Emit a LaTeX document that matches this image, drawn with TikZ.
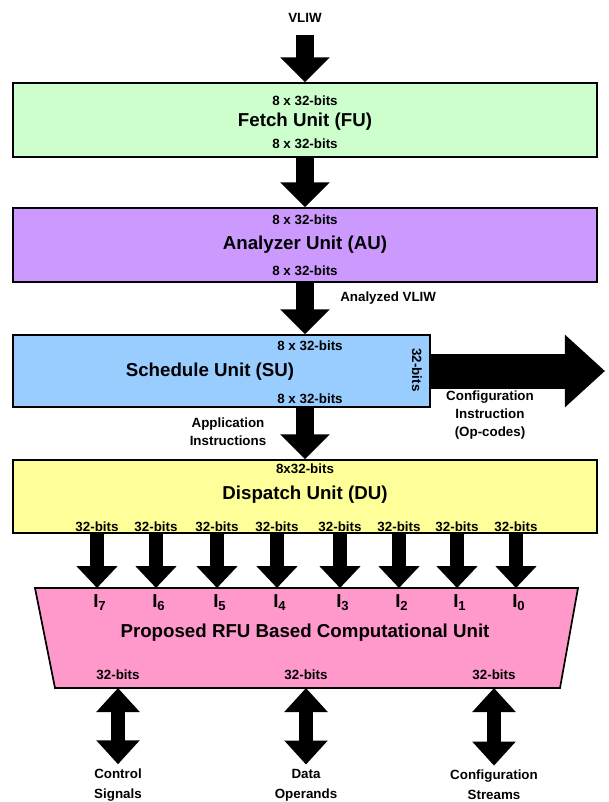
\documentclass[tikz,border=0pt]{standalone}
\usepackage{fontspec}
\setmainfont{Liberation Sans}
\usetikzlibrary{arrows.meta,positioning,calc}
\definecolor{fucol}{HTML}{CCFFCC}
\definecolor{aucol}{HTML}{CC99FF}
\definecolor{sucol}{HTML}{99CCFF}
\definecolor{ducol}{HTML}{FFFF99}
\definecolor{rfucol}{HTML}{FF99CC}
\tikzset{unit/.style={shape=rectangle, draw, line width=1.2pt, inner sep=0pt}}
\tikzset{title/.style={font=\fontsize{13.3}{15}\selectfont\bfseries, inner sep=0pt}}
\tikzset{bits/.style={font=\fontsize{9.5}{11}\selectfont\bfseries, inner sep=0pt}}
\tikzset{note/.style={font=\fontsize{9.5}{13}\selectfont\bfseries, inner sep=0pt, align=center}}
\tikzset{fat/.style={line width=0.45cm, -{Triangle[width=1.2cm,length=0.62cm]}}}
\tikzset{lane/.style={line width=0.35cm, -{Triangle[width=1cm,length=0.55cm]}}}
\tikzset{both/.style={line width=0.37cm, {Triangle[width=1.05cm,length=0.6cm]}-{Triangle[width=1.05cm,length=0.6cm]}}}

\begin{document}
\begin{tikzpicture}[x=0.025cm, y=-0.025cm]
    \useasboundingbox (0,0) rectangle (609,802);

    \node[note] (vliw) at (305,18) {VLIW};

    % fetch
    \node[unit, fill=fucol, minimum width=14.6cm, minimum height=1.85cm] (fu) at (305,120) {};
    \node[bits] (fuin) at (305,101) {8 x 32-bits};
    \node[title] (futitle) at (305,122) {Fetch Unit (FU)};
    \node[bits] (fuout) at (305,144) {8 x 32-bits};

    % analyzer
    \node[unit, fill=aucol, minimum width=14.6cm, minimum height=1.85cm] (au) at (305,245) {};
    \node[bits] (auin) at (305,220) {8 x 32-bits};
    \node[title] (autitle) at (305,245) {Analyzer Unit (AU)};
    \node[bits] (auout) at (305,271) {8 x 32-bits};

    % schedule
    \node[unit, fill=sucol, minimum width=10.425cm, minimum height=1.8cm] (su) at (221.5,371) {};
    \node[bits] (suin) at (310,346) {8 x 32-bits};
    \node[title] (sutitle) at (210,372) {Schedule Unit (SU)};
    \node[bits] (suout) at (310,399) {8 x 32-bits};
    \node[bits, rotate=-90] (suside) at (417,370) {32-bits};

    % dispatch
    \node[unit, fill=ducol, minimum width=14.6cm, minimum height=1.825cm] (du) at (305,496.5) {};
    \node[bits] (duin) at (305,469) {8x32-bits};
    \node[title] (dutitle) at (305,495) {Dispatch Unit (DU)};

    % RFU
    \draw[line width=1.2pt, fill=rfucol] (35,588) coordinate (rfutop) -- (578,588)
        -- (560,688) -- (55,688) coordinate (rfubot) -- cycle;
    \node[title] (rfutitle) at (305,633) {Proposed RFU Based Computational Unit};

    \draw[fat] ([yshift=-0.3cm]vliw.south) -- (fu.north);
    \draw[fat] (fu.south) -- (au.north);
    \draw[fat] (au.south) -- (au.south |- su.north);
    \draw[fat] (du.north |- su.south) -- (du.north);
    \coordinate (cfgtip) at (605,371);
    \draw[line width=0.875cm, -{Triangle[width=1.75cm,length=1cm]}] (su.east) -- (cfgtip);

    \node[note, anchor=west] (anvliw) at (340,298) {Analyzed VLIW};
    \node[note] (appins) at (228,432) {Application\\Instructions};
    \node[note] (cfgins) at (490,415) {Configuration\\Instruction\\(Op-codes)};

    % eight lanes
    \foreach \xx/\ii in {97/7,156/6,217/5,277/4,340/3,399/2,457/1,516/0} {
        \node[bits] (bw\ii) at (\xx,527) {32-bits};
        \node[title, anchor=west] (in\ii) at (\xx-4,603) {I\textsubscript{\ii}};
        \draw[lane] (du.south -| bw\ii) -- (rfutop -| bw\ii);
    }

    % outputs
    \foreach \xx/\nm/\txt in {118/ctl/{Control\\Signals},306/dat/{Data\\Operands},494/cfg/{Configuration\\Streams}} {
        \node[bits] (ob\nm) at (\xx,675) {32-bits};
        \node[note, font=\fontsize{9.5}{14.5}\selectfont\bfseries] (\nm) at (\xx,785) {\txt};
        \draw[both] (rfubot -| ob\nm) -- ([yshift=0.1cm]\nm.north);
    }
\end{tikzpicture}
\end{document}
